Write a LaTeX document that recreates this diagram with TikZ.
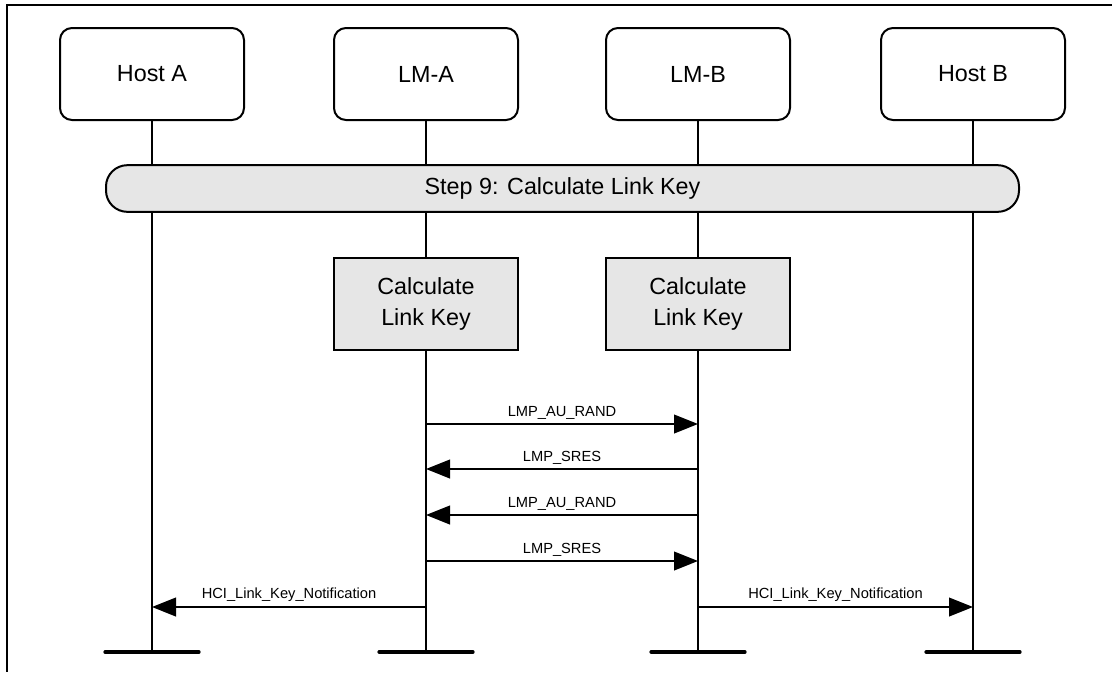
\documentclass[tikz,border=0pt]{standalone}
\usepackage{fontspec}
\setmainfont{Liberation Sans}
\usepackage{xcolor}
\usetikzlibrary{arrows.meta,positioning}
\definecolor{stepgray}{HTML}{E6E6E6}

\begin{document}
\begin{tikzpicture}[
  x=0.75pt,y=0.75pt,
  >={Triangle[length=18pt,width=14pt]},
  hostbox/.style={draw,line width=1.5pt,rounded corners=9pt,minimum width=138pt,minimum height=69pt,fill=white,
    font=\fontsize{17.5}{21}\selectfont},
  calcbox/.style={draw,line width=1.5pt,minimum width=138pt,minimum height=69pt,fill=stepgray,align=center,
    font=\fontsize{17.5}{23.25}\selectfont},
  stepbar/.style={draw,line width=1.5pt,rounded corners=16pt,minimum width=684.75pt,minimum height=35pt,fill=stepgray,
    font=\fontsize{17.5}{21}\selectfont},
  lifeline/.style={line width=1.5pt},
  endbar/.style={line width=3pt,line cap=round},
  msg/.style={line width=1.5pt,->},
  msglabel/.style={above=2pt,inner sep=1pt,font=\fontsize{11}{13}\selectfont}
]
  \useasboundingbox (0,0) rectangle (1112,-672);
  % frame (top and left edge only)
  \draw[line width=1.5pt] (1112,-5) -- (7,-5) -- (7,-672);

  % participants
  \node[hostbox] (hostA) at (152,-74) {Host A};
  \node[hostbox,right=66pt of hostA] (lmA) {LM-A};
  \node[hostbox,right=64.5pt of lmA] (lmB) {LM-B};
  \node[hostbox,right=66.75pt of lmB] (hostB) {Host B};

  % lifelines
  \coordinate (endA) at (hostA |- 0,-652);
  \coordinate (endLA) at (lmA |- 0,-652);
  \coordinate (endLB) at (lmB |- 0,-652);
  \coordinate (endB) at (hostB |- 0,-652);
  \draw[lifeline] (hostA.south) -- (endA);
  \draw[lifeline] (lmA.south) -- (endLA);
  \draw[lifeline] (lmB.south) -- (endLB);
  \draw[lifeline] (hostB.south) -- (endB);
  \draw[endbar] ([xshift=-35pt]endA) -- ([xshift=35pt]endA);
  \draw[endbar] ([xshift=-35pt]endLA) -- ([xshift=35pt]endLA);
  \draw[endbar] ([xshift=-35pt]endLB) -- ([xshift=35pt]endLB);
  \draw[endbar] ([xshift=-35pt]endB) -- ([xshift=35pt]endB);

  % step bar
  \node[stepbar] (step9) at (562.5,-188.5) {Step 9: Calculate Link Key};

  % local computations
  \node[calcbox,below=102pt of lmA] (calcA) {Calculate\\Link Key};
  \node[calcbox,below=102pt of lmB] (calcB) {Calculate\\Link Key};

  % messages
  \draw[msg] (lmA |- 0,-424) -- node[msglabel] {LMP\_AU\_RAND} (lmB |- 0,-424);
  \draw[msg] (lmB |- 0,-469) -- node[msglabel] {LMP\_SRES} (lmA |- 0,-469);
  \draw[msg] (lmB |- 0,-515) -- node[msglabel] {LMP\_AU\_RAND} (lmA |- 0,-515);
  \draw[msg] (lmA |- 0,-561) -- node[msglabel] {LMP\_SRES} (lmB |- 0,-561);
  \draw[msg] (lmA |- 0,-607) -- node[msglabel] {HCI\_Link\_Key\_Notification} (hostA |- 0,-607);
  \draw[msg] (lmB |- 0,-607) -- node[msglabel] {HCI\_Link\_Key\_Notification} (hostB |- 0,-607);
\end{tikzpicture}
\end{document}
